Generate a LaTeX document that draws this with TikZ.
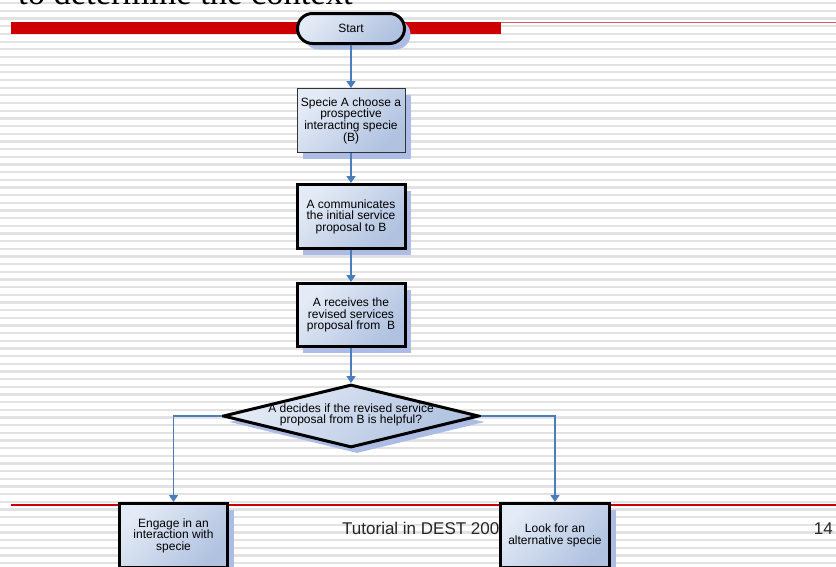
\documentclass[tikz,border=0pt]{standalone}
\usepackage{fontspec}
\setmainfont{Liberation Serif}
\newfontfamily\arialfont{Liberation Sans}
\usetikzlibrary{arrows.meta,shapes.geometric,shadows}

\definecolor{flowblue}{RGB}{74,126,187}
\definecolor{fillA}{RGB}{228,235,246}
\definecolor{fillB}{RGB}{176,194,224}
\definecolor{shadeblue}{RGB}{172,188,228}
\definecolor{stripegray}{RGB}{226,226,226}
\definecolor{barred}{RGB}{204,0,0}
\definecolor{thinred}{RGB}{218,90,90}

\newcommand\flowfont{\arialfont\fontsize{12}{11.6}\selectfont}

\begin{document}
\begin{tikzpicture}[x=1pt,y=-1pt,
  boxfill/.style={top color=fillA, bottom color=fillB, shading angle=45},
  sh/.style={drop shadow={shadow xshift=6pt, shadow yshift=-6pt, fill=shadeblue, opacity=1}},
  flowbox/.style={rectangle, draw=black, line width=3pt, boxfill, sh, inner sep=0pt,
    minimum width=108pt, minimum height=64pt, align=center, font=\flowfont},
  thinbox/.style={flowbox, line width=1pt, draw=black!80},
  terminal/.style={flowbox, rounded corners=15pt, minimum width=107pt, minimum height=30pt},
  decision/.style={diamond, draw=black, line width=3pt, boxfill, sh, inner sep=0pt,
    minimum width=256pt, minimum height=63pt},
  flowtext/.style={align=center, font=\flowfont, inner sep=0pt},
  flow/.style={draw=flowblue, line width=1.6pt, -{Triangle[width=9pt,length=7pt]}}
]
\useasboundingbox (0,0) rectangle (836,566);

% striped slide background
\fill[white] (0,0) rectangle (836,566);
\foreach \k in {0,...,73}
  \fill[stripegray] (0,{3.3+7.67*\k-1.15}) rectangle (836,{3.3+7.67*\k+1.15});

% slide title and rules
\node[anchor=base west, inner sep=0pt, font=\fontsize{34.5}{40}\selectfont] (title) at (18,4.5) {to determine the context};
\fill[barred] (11,22) rectangle (501,33.7);
\draw[thinred, line width=1.4pt] (501,22.2) -- (836,22.2);
\draw[barred, line width=1.2pt] (11,505) -- (836,505);

% footer
\node[anchor=base west, inner sep=0pt, font=\arialfont\fontsize{17}{20}\selectfont, text=black!85] (foot) at (342,534) {Tutorial in DEST 200};
\node[anchor=base east, inner sep=0pt, font=\arialfont\fontsize{17}{20}\selectfont, text=black!85] (pagenum) at (833,534) {14};

% flowchart
\node[terminal] (start) at (351,28.5) {Start};
\node[thinbox] (choose) at (351,120.5) {Specie A choose a\\prospective\\interacting specie\\(B)};
\node[flowbox] (comm) at (351,216.5) {A communicates\\the initial service\\proposal to B};
\node[flowbox, minimum height=63pt] (recv) at (351,315) {A receives the\\revised services\\proposal from~~B};
\node[decision] (dec) at (351,416) {};
\node[flowtext] (dectext) at (351,415) {A decides if the revised service\\proposal from B is helpful?};
\node[flowbox] (engage) at (173.5,535.5) {Engage in an\\interaction with\\specie};
\node[flowbox, minimum width=109pt] (look) at (555,535.5) {Look for an\\alternative specie};

\draw[flow] (start.south) -- (choose.north);
\draw[flow] (choose.south) -- (comm.north);
\draw[flow] (comm.south) -- (recv.north);
\draw[flow] (recv.south) -- (dec.north);
\draw[flow] (dec.west) -| (engage.north);
\draw[flow] (dec.east) -| (look.north);
\end{tikzpicture}
\end{document}
